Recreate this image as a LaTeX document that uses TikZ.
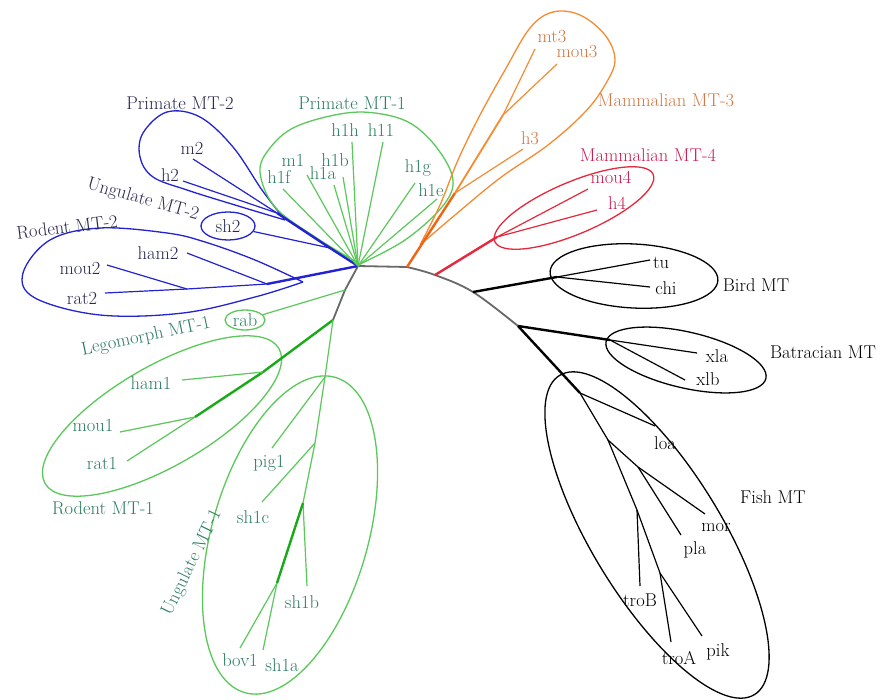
\documentclass[tikz,border=0pt]{standalone}
\usepackage{fontspec}
\usetikzlibrary{shapes.geometric}
\definecolor{bline}{RGB}{35,35,210}
\definecolor{btext}{RGB}{40,40,80}
\definecolor{gline}{RGB}{90,200,90}
\definecolor{gthick}{RGB}{25,170,25}
\definecolor{gtext}{RGB}{45,125,95}
\definecolor{oline}{RGB}{245,140,50}
\definecolor{othick}{RGB}{240,100,20}
\definecolor{otext}{RGB}{210,120,70}
\definecolor{rline}{RGB}{230,40,60}
\definecolor{rtext}{RGB}{200,30,80}
\definecolor{grayb}{RGB}{105,105,105}
\begin{document}
\begin{tikzpicture}[x=1pt,y=-1pt,
  lbl/.style={font=\fontsize{18.5}{18.5}\selectfont, inner sep=0pt},
  br/.style={line width=1.2pt},
  trunk/.style={line width=2.4pt},
  mid/.style={line width=1.8pt},
  loopline/.style={line width=1.3pt},
  ov/.style={draw, ellipse, inner sep=0pt, line width=1.3pt}]
\useasboundingbox (0,0) rectangle (882,699);
\fill[white] (0,0) rectangle (882,699);

% ---------- coordinates ----------
\coordinate (bJ) at (333,320);
\coordinate (bH) at (345,290);
\coordinate (bC) at (358,266);
\coordinate (bO) at (407,267);
\coordinate (bR) at (435,275);
\coordinate (bB) at (473,292);
\coordinate (bX) at (518,326);
% blue
\coordinate (nP2) at (277,213);
\coordinate (m2e) at (193,159);
\coordinate (h2e) at (183,181);
\coordinate (nS) at (330,248);
\coordinate (nR2) at (267,284);
\coordinate (ham2e) at (187,253);
\coordinate (nQ) at (187,289);
\coordinate (mou2e) at (107,265);
\coordinate (rat2e) at (105,293);
% green primate
\coordinate (h1fe) at (283,189);
\coordinate (m1e) at (307,175);
\coordinate (h1ae) at (334,185);
\coordinate (h1be) at (343,177);
\coordinate (h1he) at (352,142);
\coordinate (h11e) at (383,142);
\coordinate (h1ge) at (415,183);
\coordinate (h1ee) at (437,199);
% green rodent / ungulate
\coordinate (gK) at (263,372);
\coordinate (gL) at (195,417);
\coordinate (ham1e) at (182,380);
\coordinate (mou1e) at (120,432);
\coordinate (rat1e) at (127,461);
\coordinate (uM) at (325,377);
\coordinate (uN) at (315,443);
\coordinate (uO) at (303,503);
\coordinate (uP) at (277,583);
\coordinate (pig1e) at (272,448);
\coordinate (sh1ce) at (262,502);
\coordinate (sh1be) at (307,586);
\coordinate (bov1e) at (240,648);
\coordinate (sh1ae) at (263,650);
% orange
\coordinate (oB) at (455,193);
\coordinate (oC) at (503,115);
\coordinate (h3e) at (523,149);
\coordinate (mt3e) at (535,49);
\coordinate (mou3e) at (557,64);
% red
\coordinate (rE) at (497,237);
\coordinate (mou4e) at (588,189);
\coordinate (h4e) at (597,210);
% bird
\coordinate (kG) at (557,277);
\coordinate (tue) at (650,260);
\coordinate (chie) at (650,287);
% batracian
\coordinate (kF) at (610,340);
\coordinate (xlae) at (697,353);
\coordinate (xlbe) at (685,380);
% fish
\coordinate (f1) at (580,393);
\coordinate (f2) at (608,440);
\coordinate (f3) at (638,467);
\coordinate (f4) at (637,510);
\coordinate (f5) at (660,573);
\coordinate (loae) at (655,426);
\coordinate (more) at (705,514);
\coordinate (plae) at (681,535);
\coordinate (troBe) at (640,586);
\coordinate (troAe) at (671,642);
\coordinate (pike) at (702,636);

% ---------- loops ----------
\draw[loopline, bline] plot[smooth, tension=0.6] coordinates {(285,220) (262,190) (233,147) (200,117) (167,112) (143,133) (140,157) (153,177) (187,190) (235,205) (285,220)};
\draw[loopline, bline] plot[smooth, tension=0.6] coordinates {(303,282) (255,260) (205,242) (167,233) (100,228) (50,240) (23,273) (35,298) (100,315) (183,313) (255,297) (303,282)};
\draw[loopline, gline] plot[smooth, tension=0.6] coordinates {(360,264) (315,237) (275,207) (260,172) (270,148) (295,127) (340,114) (375,113) (410,123) (437,148) (453,180) (442,207) (405,240) (360,264)};
\draw[loopline, oline] plot[smooth, tension=0.6] coordinates {(420,245) (440,205) (458,160) (480,115) (505,70) (530,28) (553,12) (580,15) (605,35) (615,60) (605,85) (585,112) (548,145) (500,178) (455,215) (420,245)};
\draw[loopline, rline, rotate around={23:(574,208)}] (574,208) ellipse [x radius=86, y radius=26];
\draw[loopline, black, rotate around={-3:(634,276)}] (634,276) ellipse [x radius=84, y radius=32];
\draw[loopline, black, rotate around={-13:(686,360)}] (686,360) ellipse [x radius=82, y radius=28];
\draw[loopline, black, rotate around={-58.6:(657,535)}] (657,535) ellipse [x radius=187, y radius=65];
\draw[loopline, gline, rotate around={30:(162,416)}] (162,416) ellipse [x radius=135, y radius=50];
\draw[loopline, gline, rotate around={74:(290,535)}] (290,535) ellipse [x radius=164, y radius=78];

% ---------- group labels ----------
\node[lbl, text=btext] (lP2) at (180,103) {Primate MT-2};
\node[lbl, text=gtext] (lP1) at (352,103) {Primate MT-1};
\node[lbl, text=otext] (lM3) at (666,100) {Mammalian MT-3};
\node[lbl, text=rtext] (lM4) at (648,155) {Mammalian MT-4};
\node[lbl, text=btext, rotate=-16] (lU2) at (143,200) {Ungulate MT-2};
\node[lbl, text=btext, rotate=7] (lR2) at (67,227) {Rodent MT-2};
\node[lbl] (lB) at (756,285) {Bird MT};
\node[lbl] (lBa) at (823,352) {Batracian MT};
\node[lbl, text=gtext, rotate=12] (lL1) at (146,337) {Legomorph MT-1};
\node[lbl] (lF) at (773,497) {Fish MT};
\node[lbl, text=gtext] (lR1) at (103,508) {Rodent MT-1};
\node[lbl, text=gtext, rotate=64] (lU1) at (192,563) {Ungulate MT-1};

% ---------- leaf labels ----------
\node[lbl, text=btext] (m2) at (192,148) {m2};
\node[lbl, text=btext] (h2) at (170,175) {h2};
\node[lbl, ov, draw=bline, text=btext, minimum width=54pt, minimum height=28pt] (sh2) at (228,226) {sh2};
\node[lbl, text=btext] (ham2) at (158,253) {ham2};
\node[lbl, text=btext] (mou2) at (80,268) {mou2};
\node[lbl, text=btext] (rat2) at (82,298) {rat2};
\node[lbl, text=gtext] (h1f) at (279,177) {h1f};
\node[lbl, text=gtext] (m1) at (293,160) {m1};
\node[lbl, text=gtext] (h1b) at (335,160) {h1b};
\node[lbl, text=gtext] (h1a) at (323,173) {h1a};
\node[lbl, text=gtext] (h1h) at (345,130) {h1h};
\node[lbl, text=gtext] (h11) at (381,130) {h11};
\node[lbl, text=gtext] (h1g) at (418,168) {h1g};
\node[lbl, text=gtext] (h1e) at (431,190) {h1e};
\node[lbl, ov, draw=gline, text=gtext, minimum width=40pt, minimum height=20pt] (rab) at (245,320) {rab};
\node[lbl, text=gtext] (ham1) at (151,383) {ham1};
\node[lbl, text=gtext] (mou1) at (93,425) {mou1};
\node[lbl, text=gtext] (rat1) at (102,463) {rat1};
\node[lbl, text=gtext] (pig1) at (269,463) {pig1};
\node[lbl, text=gtext] (sh1c) at (253,517) {sh1c};
\node[lbl, text=gtext] (sh1b) at (302,602) {sh1b};
\node[lbl, text=gtext] (bov1) at (240,660) {bov1};
\node[lbl, text=gtext] (sh1a) at (282,665) {sh1a};
\node[lbl, text=otext] (mt3) at (552,37) {mt3};
\node[lbl, text=otext] (mou3) at (577,52) {mou3};
\node[lbl, text=otext] (h3) at (530,138) {h3};
\node[lbl, text=rtext] (mou4) at (611,177) {mou4};
\node[lbl, text=rtext] (h4) at (617,203) {h4};
\node[lbl] (tu) at (661,263) {tu};
\node[lbl] (chi) at (666,288) {chi};
\node[lbl] (xla) at (717,356) {xla};
\node[lbl] (xlb) at (708,379) {xlb};
\node[lbl] (loa) at (665,443) {loa};
\node[lbl] (mor) at (716,527) {mor};
\node[lbl] (pla) at (695,550) {pla};
\node[lbl] (troB) at (640,600) {troB};
\node[lbl] (troA) at (679,658) {troA};
\node[lbl] (pik) at (718,652) {pik};

% ---------- backbone ----------
\draw[mid, grayb, line cap=round] (bJ) -- (bH) -- (bC) -- (bO);
\draw[mid, grayb] plot[smooth, tension=0.6] coordinates {(bO) (bR) (bB) (bX)};

% ---------- blue branches ----------
\draw[trunk, bline] (bC) -- (nS) -- (nP2);
\draw[trunk, bline] (bC) -- (nR2);
\draw[br, bline] (nP2) -- (m2e);
\draw[br, bline] (nP2) -- (h2e);
\draw[br, bline] (nS) -- (sh2);
\draw[br, bline] (nR2) -- (ham2e);
\draw[br, bline] (nR2) -- (nQ) -- (rat2e);
\draw[br, bline] (nQ) -- (mou2e);

% ---------- green primate ----------
\foreach \e in {h1fe,m1e,h1ae,h1be,h1he,h11e,h1ge,h1ee}
  \draw[br, gline] (bC) -- (\e);

% ---------- green lower ----------
\draw[br, gline] (bH) -- (rab);
\draw[trunk, gthick] (bJ) -- (gK) -- (gL);
\draw[br, gline] (gK) -- (ham1e);
\draw[br, gline] (gL) -- (mou1e);
\draw[br, gline] (gL) -- (rat1e);
\draw[br, gline] (bJ) -- (uM) -- (uN) -- (uO) -- (sh1be);
\draw[br, gline] (uM) -- (pig1e);
\draw[br, gline] (uN) -- (sh1ce);
\draw[trunk, gthick] (uO) -- (uP);
\draw[br, gline] (uP) -- (bov1e);
\draw[br, gline] (uP) -- (sh1ae);

% ---------- orange ----------
\draw[trunk, othick] (bO) -- (oB);
\draw[mid, oline] (oB) -- (oC);
\draw[br, oline] (oB) -- (h3e);
\draw[br, oline] (oC) -- (mt3e);
\draw[br, oline] (oC) -- (mou3e);

% ---------- red ----------
\draw[trunk, rline] (bR) -- (rE);
\draw[br, rline] (rE) -- (mou4e);
\draw[br, rline] (rE) -- (h4e);

% ---------- black ----------
\draw[trunk] (bB) -- (kG);
\draw[br] (kG) -- (tue);
\draw[br] (kG) -- (chie);
\draw[trunk] (bX) -- (kF);
\draw[br] (kF) -- (xlae);
\draw[br] (kF) -- (xlbe);
\draw[trunk] (bX) -- (f1);
\draw[br] (f1) -- (loae);
\draw[br] (f1) -- (f2) -- (f3);
\draw[br] (f3) -- (more);
\draw[br] (f3) -- (plae);
\draw[br] (f2) -- (f4) -- (f5) -- (pike);
\draw[br] (f4) -- (troBe);
\draw[br] (f5) -- (troAe);
\end{tikzpicture}
\end{document}
